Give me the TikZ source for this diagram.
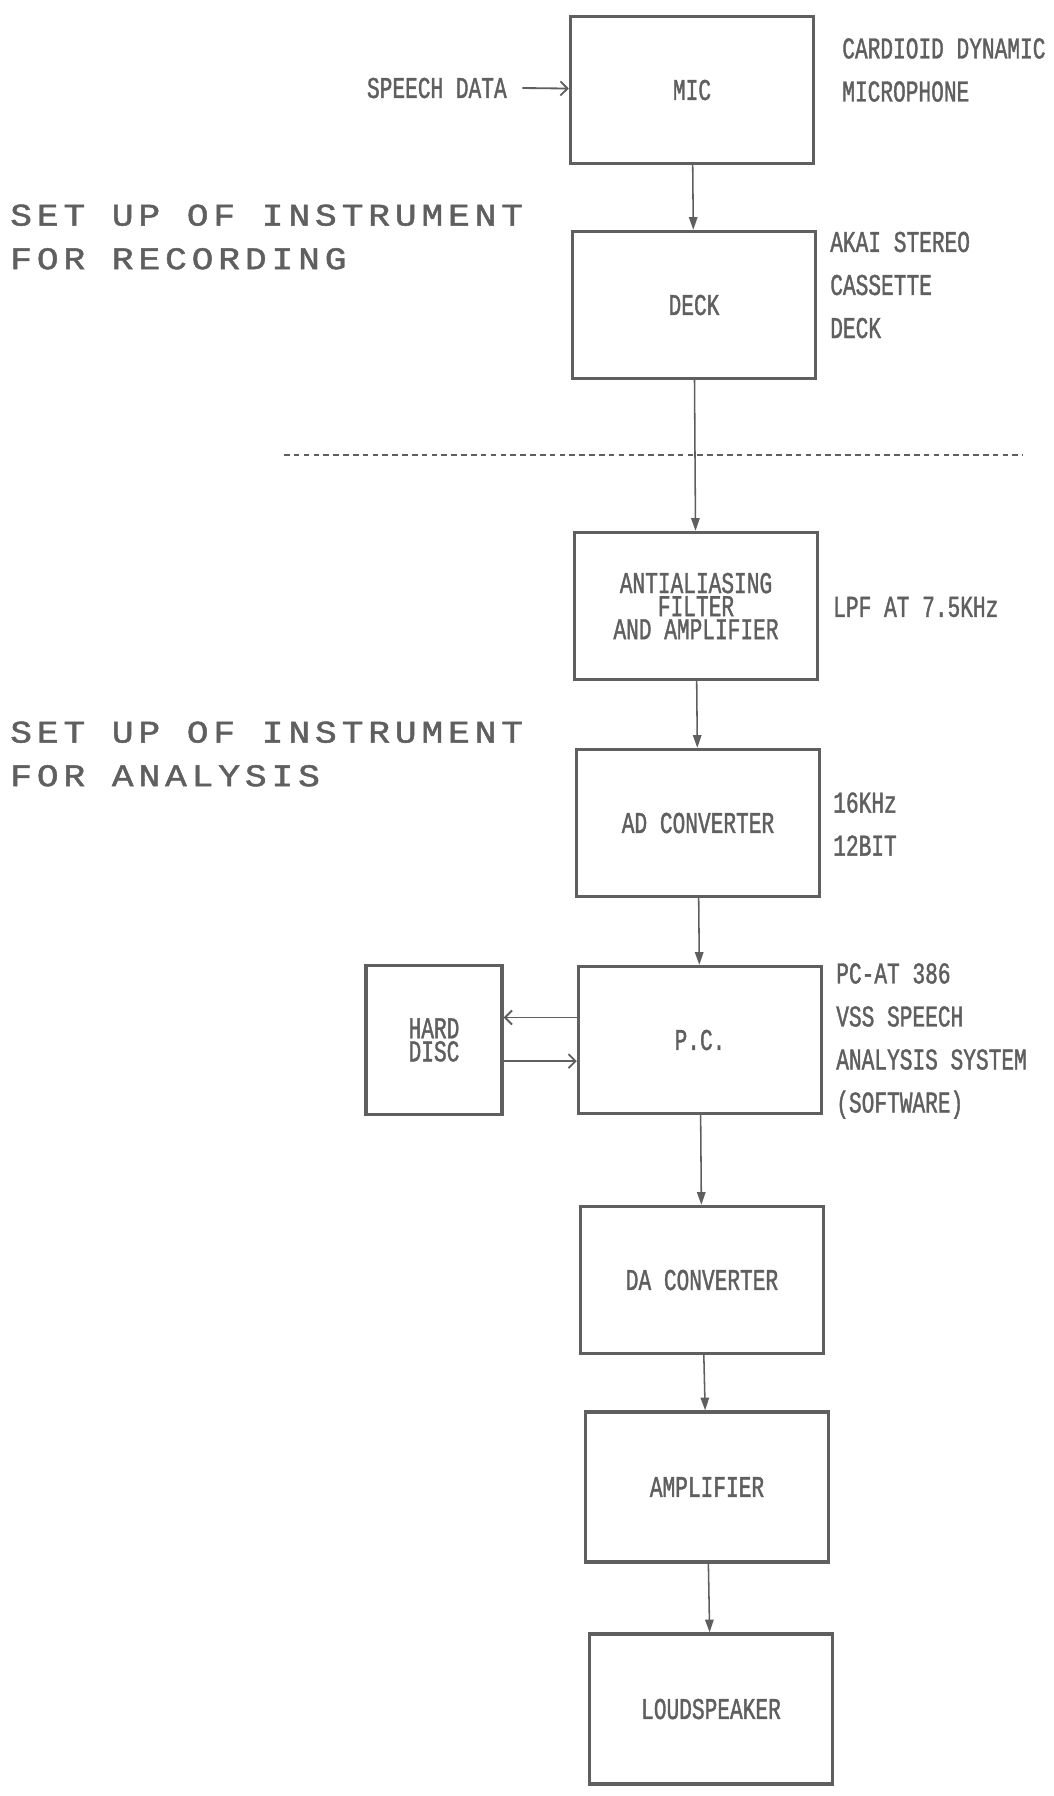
\documentclass[tikz,border=0pt]{standalone}
\usepackage{fontspec}
\usepackage{xcolor}
\usetikzlibrary{arrows.meta}
\newfontfamily\printfont[FakeStretch=0.7,FakeBold=1.2]{Liberation Mono}
\newfontfamily\headfont[FakeStretch=1.15,LetterSpace=15.5,FakeBold=1.5]{Liberation Mono}
\definecolor{ink}{RGB}{95,95,95}

\begin{document}
\begin{tikzpicture}[x=0.025cm,y=-0.025cm,
  blk/.style={draw=ink,line width=2.4pt,minimum width=6.075cm,minimum height=3.675cm,inner sep=0pt,align=center,text=ink,font=\printfont\fontsize{21.5}{16.4}\selectfont},
  side/.style={anchor=west,align=left,inner sep=0pt,text=ink,font=\printfont\fontsize{21.5}{30.6}\selectfont},
  head/.style={anchor=west,align=left,inner sep=0pt,text=ink,font=\headfont\fontsize{22.4}{31}\selectfont},
  flow/.style={draw=ink,line width=1.1pt,-{Triangle[length=9pt,width=6pt]}},
  feed/.style={draw=ink,line width=1.3pt,-{Straight Barb[length=5pt,width=10pt]}}]
\fill[white](0,0)rectangle(1053,1796);
\useasboundingbox(0,0)rectangle(1053,1796);
% recording chain
\node[blk](mic)at(692,90){MIC};
\node[blk](deck)at(694,305){DECK};
\node[side,anchor=east](speech)at(507,88){SPEECH DATA};
\node[side](micnote)at(842,70){CARDIOID DYNAMIC\\MICROPHONE};
\node[side](decknote)at(830,285){AKAI STEREO\\CASSETTE\\DECK};
\node[head](rec)at(10,237){SET UP OF INSTRUMENT\\FOR RECORDING};
\draw[ink,line width=1.2pt,dash pattern=on 4pt off 3pt](284,455)--(1023,455);
% analysis chain
\node[blk](filt)at(696,606){ANTIALIASING\\FILTER\\AND AMPLIFIER};
\node[blk](adc)at(698,823){AD CONVERTER};
\node[blk](pc)at(700,1040){P.C.};
\node[blk,minimum width=3.4cm,minimum height=3.725cm](disc)at(434,1040){HARD\\DISC};
\node[blk](dac)at(702,1280){DA CONVERTER};
\node[blk,minimum height=3.75cm](amp)at(707,1487){AMPLIFIER};
\node[blk,minimum height=3.75cm](spk)at(711,1709){LOUDSPEAKER};
\node[side](filtnote)at(833,607){LPF AT 7.5KHz};
\node[side](adcnote)at(833,824){16KHz\\12BIT};
\node[side](pcnote)at(836,1041){PC-AT 386\\VSS SPEECH\\ANALYSIS SYSTEM\\(SOFTWARE)};
\node[head](ana)at(10,754){SET UP OF INSTRUMENT\\FOR ANALYSIS};
% connectors
\draw[feed]([xshift=11pt]speech.east)--(mic);
\draw[flow](mic)--(deck);
\draw[flow](deck)--(filt);
\draw[flow](filt)--(adc);
\draw[flow](adc)--(pc);
\draw[feed]([yshift=16pt]pc.west)--([yshift=16pt]pc.west-|disc.east);
\draw[feed]([yshift=-15pt]disc.east)--([yshift=-15pt]disc.east-|pc.west);
\draw[flow](pc)--(dac);
\draw[flow](dac)--(amp);
\draw[flow](amp)--(spk);
\end{tikzpicture}
\end{document}
